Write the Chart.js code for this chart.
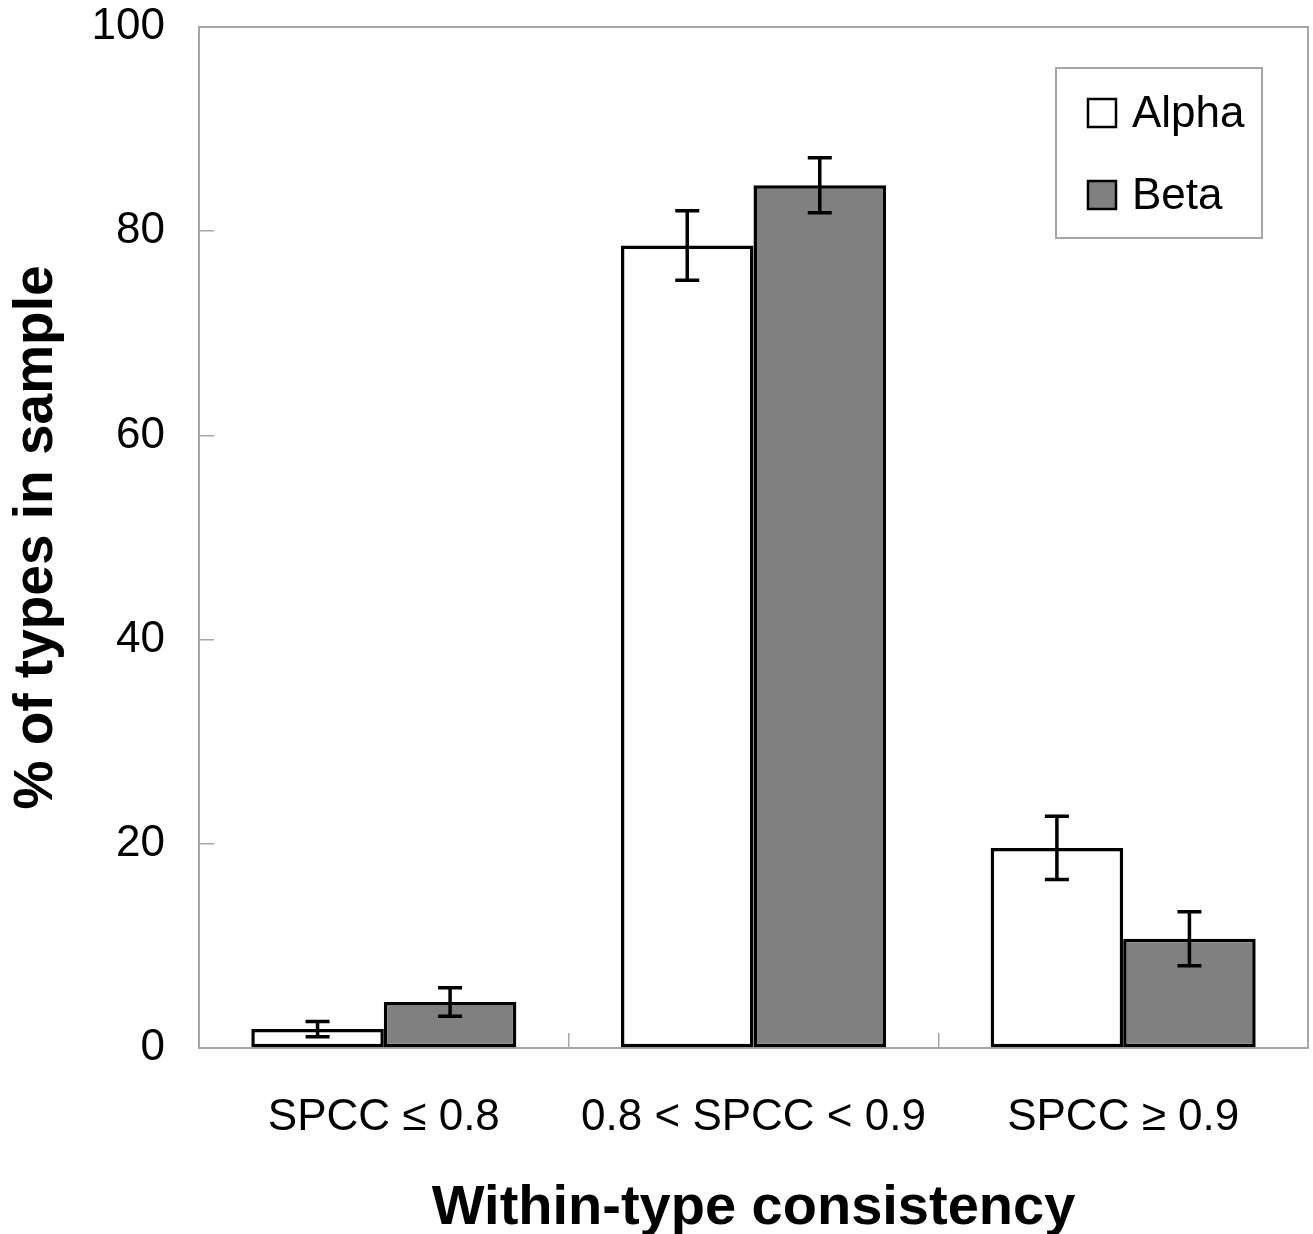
<!DOCTYPE html>
<html lang="en">
<head>
    <meta charset="UTF-8">
    <title>Within-type consistency</title>
    <script src="https://cdn.jsdelivr.net/npm/chart.js"></script>
    <style>
        body { margin: 0; background: #fff; }
        canvas { display: block; }
    </style>
</head>
<body>
    <canvas id="barChart" width="1313" height="1234"></canvas>

    <script>
        // Data
        const categories = ["SPCC \u2264 0.8", "0.8 < SPCC < 0.9", "SPCC \u2265 0.9"];
        const alphaValues = [1.85, 78.6, 19.6];
        const alphaErrors = [0.75, 3.4, 3.1];
        const betaValues = [4.5, 84.5, 10.7];
        const betaErrors = [1.4, 2.7, 2.65];
        const yTicks = [0, 20, 40, 60, 80, 100];

        const FONT = "'Liberation Sans', Arial, sans-serif";
        const AXIS_GRAY = "#a6a6a6";

        // error bars drawn from the y scale
        const errorBarPlugin = {
            id: "errorBars",
            afterDatasetsDraw(chart) {
                const ctx = chart.ctx;
                const yScale = chart.scales.y;
                chart.data.datasets.forEach((ds, i) => {
                    const meta = chart.getDatasetMeta(i);
                    meta.data.forEach((bar, j) => {
                        const v = ds.data[j];
                        const e = ds.errors[j];
                        const yTop = yScale.getPixelForValue(v + e);
                        const yBot = yScale.getPixelForValue(v - e);
                        ctx.save();
                        ctx.strokeStyle = "#000";
                        ctx.lineWidth = 3.5;
                        ctx.beginPath();
                        ctx.moveTo(bar.x, yTop);
                        ctx.lineTo(bar.x, yBot);
                        ctx.moveTo(bar.x - 12, yTop);
                        ctx.lineTo(bar.x + 12, yTop);
                        ctx.moveTo(bar.x - 12, yBot);
                        ctx.lineTo(bar.x + 12, yBot);
                        ctx.stroke();
                        ctx.restore();
                    });
                });
            }
        };

        // top and right side of the plot frame
        const framePlugin = {
            id: "frame",
            beforeDatasetsDraw(chart) {
                const { ctx, chartArea: a } = chart;
                ctx.save();
                ctx.strokeStyle = AXIS_GRAY;
                ctx.lineWidth = 2;
                ctx.beginPath();
                ctx.moveTo(a.left, a.top);
                ctx.lineTo(a.right, a.top);
                ctx.lineTo(a.right, a.bottom);
                ctx.stroke();
                ctx.restore();
            }
        };

        // boxed legend inside the plot, top right
        const legendBoxPlugin = {
            id: "legendBox",
            afterDraw(chart) {
                const { ctx, chartArea: a } = chart;
                const bx = a.right - 252, by = a.top + 41, bw = 206, bh = 170;
                ctx.save();
                ctx.fillStyle = "#fff";
                ctx.fillRect(bx, by, bw, bh);
                ctx.strokeStyle = AXIS_GRAY;
                ctx.lineWidth = 2;
                ctx.strokeRect(bx, by, bw, bh);
                ctx.font = "44px " + FONT;
                ctx.textBaseline = "middle";
                chart.data.datasets.forEach((ds, i) => {
                    const cy = by + 45 + i * 82;
                    ctx.fillStyle = ds.backgroundColor;
                    ctx.fillRect(bx + 32, cy - 14, 28, 28);
                    ctx.strokeStyle = "#000";
                    ctx.lineWidth = 2.5;
                    ctx.strokeRect(bx + 32, cy - 14, 28, 28);
                    ctx.fillStyle = "#000";
                    ctx.fillText(ds.label, bx + 76, cy + 2);
                });
                ctx.restore();
            }
        };

        const ctxBar = document.getElementById("barChart").getContext("2d");
        const barChart = new Chart(ctxBar, {
            type: "bar",
            data: {
                labels: categories,
                datasets: [
                    {
                        label: "Alpha",
                        data: alphaValues,
                        errors: alphaErrors,
                        backgroundColor: "#ffffff",
                        borderColor: "#000000",
                        borderWidth: 3.5,
                        borderSkipped: false
                    },
                    {
                        label: "Beta",
                        data: betaValues,
                        errors: betaErrors,
                        backgroundColor: "#808080",
                        borderColor: "#000000",
                        borderWidth: 3.5,
                        borderSkipped: false
                    }
                ]
            },
            options: {
                responsive: false,
                animation: false,
                layout: { padding: { top: 27, right: 5, left: 0, bottom: 0 } },
                categoryPercentage: 0.717,
                barPercentage: 1.0,
                plugins: {
                    legend: { display: false },
                    tooltip: { enabled: false }
                },
                scales: {
                    x: {
                        grid: {
                            offset: true,
                            drawOnChartArea: false,
                            color: AXIS_GRAY,
                            lineWidth: 1.5,
                            tickLength: -15
                        },
                        border: { color: AXIS_GRAY, width: 2 },
                        ticks: {
                            color: "#000",
                            font: { family: FONT, size: 44 },
                            padding: 58,
                            maxRotation: 0
                        },
                        title: {
                            display: true,
                            text: "Within-type consistency",
                            color: "#000",
                            font: { family: FONT, size: 56, weight: "bold" },
                            padding: { top: 0, bottom: -8 }
                        },
                        afterFit(scale) {
                            scale.height = 186;
                            scale.paddingLeft = 0;
                            scale.paddingRight = 0;
                        }
                    },
                    y: {
                        min: 0,
                        max: 100,
                        afterBuildTicks(scale) {
                            scale.ticks = yTicks.map(v => ({ value: v }));
                        },
                        grid: {
                            drawOnChartArea: false,
                            color: AXIS_GRAY,
                            lineWidth: 1.5,
                            tickLength: -15
                        },
                        border: { color: AXIS_GRAY, width: 2 },
                        ticks: {
                            color: "#000",
                            font: { family: FONT, size: 44 },
                            padding: 49
                        },
                        title: {
                            display: true,
                            text: "% of types in sample",
                            color: "#000",
                            font: { family: FONT, size: 55, weight: "bold" },
                            padding: { top: 4, bottom: 0 }
                        },
                        afterFit(scale) {
                            scale.width = 199;
                            scale.paddingTop = 0;
                            scale.paddingBottom = 0;
                        }
                    }
                }
            },
            plugins: [framePlugin, errorBarPlugin, legendBoxPlugin]
        });
    </script>
</body>
</html>
